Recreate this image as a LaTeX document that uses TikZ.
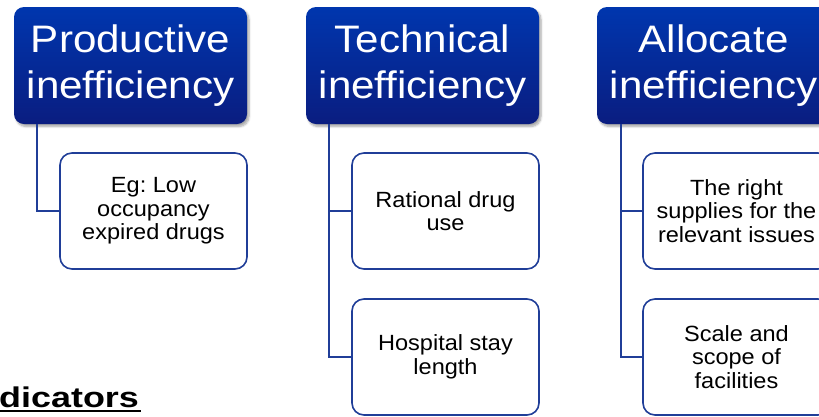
\documentclass[tikz,border=0pt]{standalone}
\usepackage{fontspec}
\setmainfont{Liberation Sans}
\newfontfamily\hdfont[FakeStretch=1.1]{Liberation Sans}
\newfontfamily\bxfont[FakeStretch=1.07]{Liberation Sans}
\newfontfamily\indfont[FakeStretch=1.26]{Liberation Sans}
\usetikzlibrary{calc,shadows.blur}
\frenchspacing

\definecolor{hdtop}{HTML}{0036AE}
\definecolor{hdbot}{HTML}{0A1D80}
\definecolor{edge}{HTML}{203E98}

\tikzset{
  header/.style={rectangle, rounded corners=10pt, top color=hdtop, bottom color=hdbot,
    draw=none, minimum width=233pt, minimum height=117pt, inner sep=0pt,
    text=white, align=center, font=\hdfont\fontsize{38.3}{46}\selectfont,
    blur shadow={shadow xshift=2pt, shadow yshift=-2.5pt, shadow blur steps=6, shadow opacity=35}},
  leaf/.style={rectangle, rounded corners=12pt, draw=edge, line width=1.6pt, fill=white,
    minimum width=187pt, minimum height=116pt, inner sep=0pt,
    text=black, align=center, font=\bxfont\fontsize{22}{23.5}\selectfont},
  conn/.style={draw=edge, line width=1.6pt},
}

\begin{document}
\begin{tikzpicture}[x=1pt, y=-1pt]
  \useasboundingbox (0,0) rectangle (819,416);
  \clip (0,0) rectangle (819,416);

  % top-level categories
  \node[header] (h1) at (130.5,65.5) {Productive\\inefficiency};
  \node[header] (h2) at (422.5,65.5) {Technical\\inefficiency};
  \node[header] (h3) at (713.5,65.5) {Allocate\\inefficiency};

  % examples under each category
  \node[leaf] (c1)  at (153.5,211) {Eg: Low\\occupancy\\expired drugs};
  \node[leaf] (c2a) at (445.5,211) {Rational drug\\use};
  \node[leaf] (c2b) at (445.5,357) {Hospital stay\\length};
  \node[leaf] (c3a) at (736.5,211) {The right\\supplies for the\\relevant issues};
  \node[leaf] (c3b) at (736.5,357) {Scale and\\scope of\\facilities};

  % elbow connectors from each category to its examples
  \draw[conn] ($(h1.south west)+(23,0)$) |- (c1.west);
  \draw[conn] ($(h2.south west)+(23,0)$) |- (c2a.west);
  \draw[conn] ($(h2.south west)+(23,0)$) |- (c2b.west);
  \draw[conn] ($(h3.south west)+(24,0)$) |- (c3a.west);
  \draw[conn] ($(h3.south west)+(24,0)$) |- (c3b.west);

  % underlined heading at the lower left
  \node[anchor=base west, inner sep=0pt, font=\indfont\bfseries\fontsize{28.5}{30}\selectfont]
    (ind) at (-1,407) {dicators};
  \draw[line width=2pt] ($(ind.base west)+(0,3.5)$) -- ($(ind.base east)+(2,3.5)$);
\end{tikzpicture}
\end{document}
